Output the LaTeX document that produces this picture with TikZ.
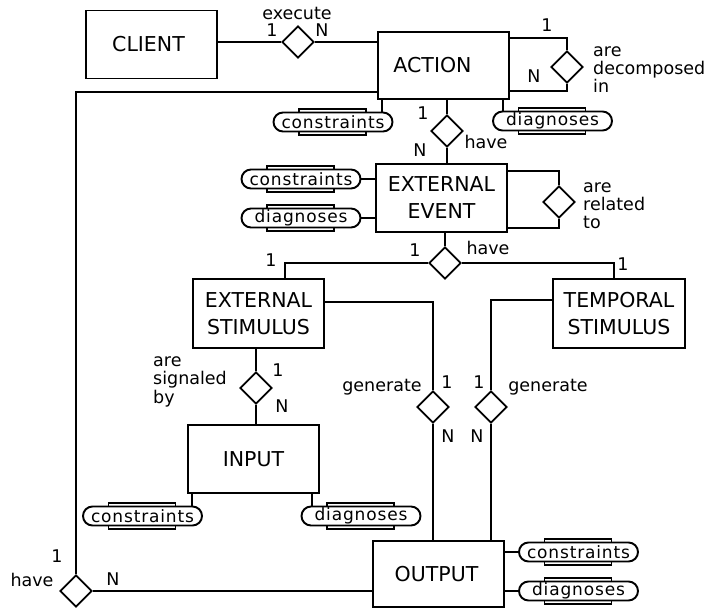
\documentclass[tikz,border=0pt]{standalone}
\usepackage{fontspec}
\setmainfont{DejaVu Sans}
\newfontfamily\attrfont[LetterSpace=5]{DejaVu Sans}
\usetikzlibrary{shapes.geometric,calc}
\pgfdeclarelayer{bg}
\pgfsetlayers{bg,main}

% attribute: a stadium with a framed band behind its middle part
\newcommand\attribute[3]{%
  \draw[band] ($(#2)+(-34,-13)$) rectangle ($(#2)+(33,13)$);
  \node[attr] (#1) at (#2) {#3};}

\begin{document}
\begin{tikzpicture}[x=1pt,y=-1pt,
  stroke/.style={line width=1.9pt,draw=black},
  entity/.style={stroke,fill=white,minimum width=131pt,minimum height=68pt,
    inner sep=0pt,align=center,font=\fontsize{20.5}{27}\selectfont},
  rel/.style={stroke,fill=white,diamond,aspect=1,minimum width=32pt,
    minimum height=32pt,inner sep=0pt},
  attr/.style={stroke,fill=white,rounded corners=9.5pt,minimum width=119pt,
    minimum height=19pt,inner sep=0pt,font=\attrfont\fontsize{17}{17}\selectfont},
  band/.style={stroke,fill=white},
  link/.style={stroke},
  lbl/.style={anchor=base,inner sep=0pt,font=\fontsize{17.5}{18}\selectfont},
  mlbl/.style={anchor=base west,inner sep=0pt,font=\fontsize{17.5}{18}\selectfont},
]
\useasboundingbox (0,0) rectangle (713,609);

% entities
\node[entity] (client) at (151.5,44.5) {CLIENT\hspace{6pt}};
\node[entity,minimum height=67pt] (action) at (443.5,65.5) {ACTION\hspace{22pt}};
\node[entity] (event) at (441.5,198) {EXTERNAL\\EVENT};
\node[entity,minimum height=69pt] (extstim) at (258.5,313.5) {EXTERNAL\\STIMULUS};
\node[entity,minimum width=132pt,minimum height=69pt] (tempstim) at (619,313.5) {TEMPORAL\\STIMULUS};
\node[entity] (input) at (253.5,459) {INPUT};
\node[entity,minimum height=66pt] (output) at (438.5,574) {OUTPUT\hspace{4pt}};

% relationships
\node[rel] (execute) at (298,42) {};
\node[rel] (decomp) at (567,67) {};
\node[rel] (haveevent) at (447,131) {};
\node[rel] (related) at (559,202) {};
\node[rel] (havestim) at (445,263) {};
\node[rel] (signaled) at (256,388) {};
\node[rel] (genext) at (433,407) {};
\node[rel] (gentemp) at (491,407) {};
\node[rel] (haveout) at (76,591) {};

% attributes
\attribute{actcon}{333,122}{constraints}
\attribute{actdia}{552.5,121}{diagnoses}
\attribute{evcon}{301,179}{constraints}
\attribute{evdia}{301,218}{diagnoses}
\attribute{incon}{142.5,516}{constraints}
\attribute{india}{361,516}{diagnoses}
\attribute{outcon}{578.5,552}{constraints}
\attribute{outdia}{578.5,591}{diagnoses}

% connectors
\begin{pgfonlayer}{bg}
\draw[link] (client.east |- execute) -- (execute.west);
\draw[link] (execute.east) -- (execute.east -| action.west);
\draw[link] ([yshift=-7pt]action.north east) -| (decomp.north);
\draw[link] ([yshift=9pt]action.south east) -| (decomp.south);
\draw[link] ([yshift=8pt]action.south west) -| (haveout.north);
\draw[link] (haveout.east) -- (haveout.east -| output.west);
\draw[link] (haveevent.north |- action.south) -- (haveevent.north);
\draw[link] (haveevent.south) -- (haveevent.south |- event.north);
\draw[link] ([yshift=-8pt]event.north east) -| (related.north);
\draw[link] ([yshift=5pt]event.south east) -| (related.south);
\draw[link] (havestim.north |- event.south) -- (havestim.north);
\draw[link] (havestim.west) -| ([xshift=26.5pt]extstim.north);
\draw[link] (havestim.east) -| ([xshift=-5pt]tempstim.north);
\draw[link] (signaled.north |- extstim.south) -- (signaled.north);
\draw[link] (signaled.south) -- (signaled.south |- input.north);
\draw[link] ([yshift=11.5pt]extstim.east) -| (genext.north);
\draw[link] (genext.south) -- (genext.south |- output.north);
\draw[link] ([yshift=13.5pt]tempstim.west) -| (gentemp.north);
\draw[link] (gentemp.south) -- (gentemp.south |- output.north);
% attribute links
\draw[link] ([xshift=5pt]action.south west) -- ([xshift=5pt]action.south west |- actcon.center);
\draw[link] ([xshift=-7pt]action.south east) -- ([xshift=-7pt]action.south east |- actdia.center);
\draw[link] (event.west |- evcon) -- (evcon.center);
\draw[link] (event.west |- evdia) -- (evdia.center);
\draw[link] ([xshift=5pt]input.south west) -- ([xshift=5pt]input.south west |- incon.center);
\draw[link] ([xshift=-8pt]input.south east) -- ([xshift=-8pt]input.south east |- india.center);
\draw[link] (output.east |- outcon) -- (outcon.center);
\draw[link] (output.east |- outdia) -- (outdia.center);
\end{pgfonlayer}

% relationship names and cardinalities
\node[lbl] (lexecute) at (297,20) {execute};
\node[lbl] (cexec1) at (272,37) {1};
\node[lbl] (cexecN) at (322,37) {N};
\node[lbl] (cdec1) at (547,32) {1};
\node[lbl] (cdecN) at (534,83) {N};
\node[mlbl] (ldec1) at (593,57) {are};
\node[mlbl] (ldec2) at (593,75) {decomposed};
\node[mlbl] (ldec3) at (593,93) {in};
\node[lbl] (chev1) at (423,120) {1};
\node[lbl] (chevN) at (420,157) {N};
\node[lbl] (lhev) at (486,149) {have};
\node[mlbl] (lrel1) at (583,193) {are};
\node[mlbl] (lrel2) at (583,211) {related};
\node[mlbl] (lrel3) at (583,229) {to};
\node[lbl] (lhst) at (488,255) {have};
\node[lbl] (chst0) at (415,257) {1};
\node[lbl] (chst1) at (271,267) {1};
\node[lbl] (chst2) at (623,271) {1};
\node[mlbl] (lsig1) at (153,367) {are};
\node[mlbl] (lsig2) at (153,385) {signaled};
\node[mlbl] (lsig3) at (153,404) {by};
\node[lbl] (csig1) at (278,377) {1};
\node[lbl] (csigN) at (282,413) {N};
\node[lbl] (lgen1) at (382,392) {generate};
\node[lbl] (cgen11) at (447,389) {1};
\node[lbl] (cgen1N) at (448,443) {N};
\node[lbl] (lgen2) at (548,392) {generate};
\node[lbl] (cgen21) at (479,389) {1};
\node[lbl] (cgen2N) at (477,443) {N};
\node[lbl] (chout1) at (57,563) {1};
\node[lbl] (lhout) at (32,587) {have};
\node[lbl] (choutN) at (113,586) {N};
\end{tikzpicture}
\end{document}
